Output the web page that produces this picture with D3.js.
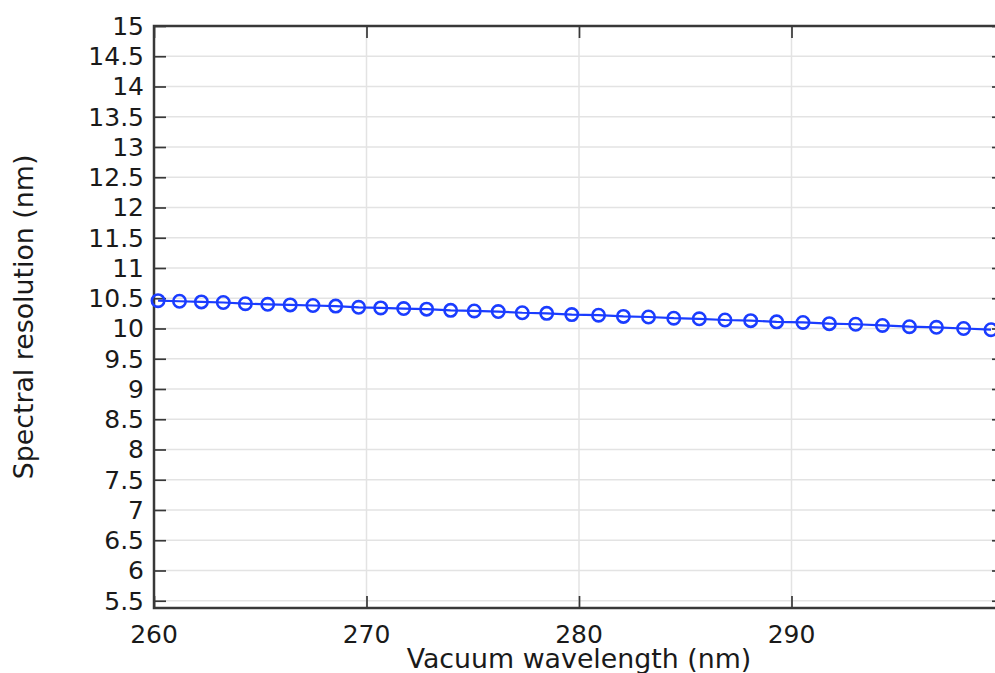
<!DOCTYPE html>
<html>
<head>
<meta charset="utf-8">
<script src="https://cdn.jsdelivr.net/npm/d3@7"></script>
<style>
  html, body { margin: 0; padding: 0; background: #fff; }
  svg { display: block; }
  text { font-family: "DejaVu Sans", sans-serif; fill: #1a1a1a; }
</style>
</head>
<body>
<svg id="chart" width="995" height="673"></svg>
<script>
// Sampled wavelengths (nm) and the spectral resolution at each (nm)
const wavelengths = [
  260.19, 261.20, 262.23, 263.26, 264.30, 265.35, 266.41, 267.48, 268.55, 269.63,
  270.67, 271.75, 272.83, 273.96, 275.07, 276.20, 277.33, 278.48, 279.66, 280.92,
  282.09, 283.27, 284.46, 285.66, 286.87, 288.08, 289.30, 290.54, 291.78, 293.02,
  294.28, 295.55, 296.82, 298.10, 299.39
];
const resolution = [
  10.46, 10.45, 10.44, 10.43, 10.41, 10.40, 10.39, 10.38, 10.37, 10.35,
  10.34, 10.33, 10.32, 10.30, 10.29, 10.28, 10.26, 10.25, 10.23, 10.22,
  10.20, 10.19, 10.17, 10.16, 10.14, 10.13, 10.11, 10.10, 10.08, 10.07,
  10.05, 10.03, 10.02, 10.00, 9.98
];
const xTicks = [260, 270, 280, 290, 300];
const xTickLabels = [260, 270, 280, 290];
const yTicks = [5.5, 6, 6.5, 7, 7.5, 8, 8.5, 9, 9.5, 10, 10.5, 11, 11.5, 12,
                12.5, 13, 13.5, 14, 14.5, 15];
const xTitle = "Vacuum wavelength (nm)";
const yTitle = "Spectral resolution (nm)";

const points = wavelengths.map((w, i) => ({ x: w, y: resolution[i] }));

const svg = d3.select("#chart");
// the frame runs past the right edge of the page, so its right side is cut
const plotLeft = 154, plotRight = 1004, plotTop = 26, plotBottom = 608;

const x = d3.scaleLinear().domain([260, 300]).range([plotLeft, plotRight]);
const y = d3.scaleLinear().domain([5.38, 15]).range([plotBottom, plotTop]);

const gridColor = "#e3e3e3";
const axisColor = "#383838";
const tickLen = 12;
const fmt = d => String(d);

// grid
svg.append("g").selectAll("line").data(yTicks).join("line")
  .attr("x1", plotLeft).attr("x2", plotRight)
  .attr("y1", d => y(d)).attr("y2", d => y(d))
  .attr("stroke", gridColor).attr("stroke-width", 1.5);
svg.append("g").selectAll("line").data(xTicks.filter(d => d > 260)).join("line")
  .attr("y1", plotTop).attr("y2", plotBottom)
  .attr("x1", d => x(d)).attr("x2", d => x(d))
  .attr("stroke", gridColor).attr("stroke-width", 1.5);

// axes with inward ticks on all four sides
const axisLeftSide = d3.axisRight(y).tickValues(yTicks).tickSize(tickLen).tickFormat("");
const axisRightSide = d3.axisLeft(y).tickValues(yTicks).tickSize(tickLen).tickFormat("");
const axisBottomSide = d3.axisTop(x).tickValues(xTicks).tickSize(tickLen).tickFormat("");
const axisTopSide = d3.axisBottom(x).tickValues(xTicks).tickSize(tickLen).tickFormat("");

function styleAxis(g) {
  g.select(".domain").remove();
  g.selectAll(".tick line").attr("stroke", axisColor).attr("stroke-width", 1.7);
}
svg.append("g").attr("transform", `translate(${plotLeft},0)`).call(axisLeftSide).call(styleAxis);
svg.append("g").attr("transform", `translate(${plotRight},0)`).call(axisRightSide).call(styleAxis);
svg.append("g").attr("transform", `translate(0,${plotBottom})`).call(axisBottomSide).call(styleAxis);
svg.append("g").attr("transform", `translate(0,${plotTop})`).call(axisTopSide).call(styleAxis);

// frame
svg.append("rect")
  .attr("x", plotLeft).attr("y", plotTop)
  .attr("width", plotRight - plotLeft).attr("height", plotBottom - plotTop)
  .attr("fill", "none").attr("stroke", axisColor).attr("stroke-width", 2.5);

// tick labels
svg.append("g").selectAll("text").data(yTicks).join("text")
  .attr("x", plotLeft - 10).attr("y", d => y(d)).attr("dy", "0.36em")
  .attr("text-anchor", "end").attr("font-size", 25)
  .text(fmt);
svg.append("g").selectAll("text").data(xTickLabels).join("text")
  .attr("x", d => x(d)).attr("y", 643)
  .attr("text-anchor", "middle").attr("font-size", 25)
  .text(fmt);

// axis titles
svg.append("text")
  .attr("x", (plotLeft + plotRight) / 2).attr("y", 668)
  .attr("text-anchor", "middle").attr("font-size", 26.8)
  .text(xTitle);
svg.append("text")
  .attr("transform", `translate(33,${(plotTop + plotBottom) / 2}) rotate(-90)`)
  .attr("text-anchor", "middle").attr("font-size", 26.8)
  .text(yTitle);

// data line and circle markers
const blue = "#1a3cff";
svg.append("path").datum(points)
  .attr("fill", "none").attr("stroke", blue).attr("stroke-width", 2.2)
  .attr("d", d3.line().x(d => x(d.x)).y(d => y(d.y)));
svg.append("g").selectAll("circle").data(points).join("circle")
  .attr("cx", d => x(d.x)).attr("cy", d => y(d.y)).attr("r", 6.2)
  .attr("fill", "none").attr("stroke", blue).attr("stroke-width", 2.6);
</script>
</body>
</html>
